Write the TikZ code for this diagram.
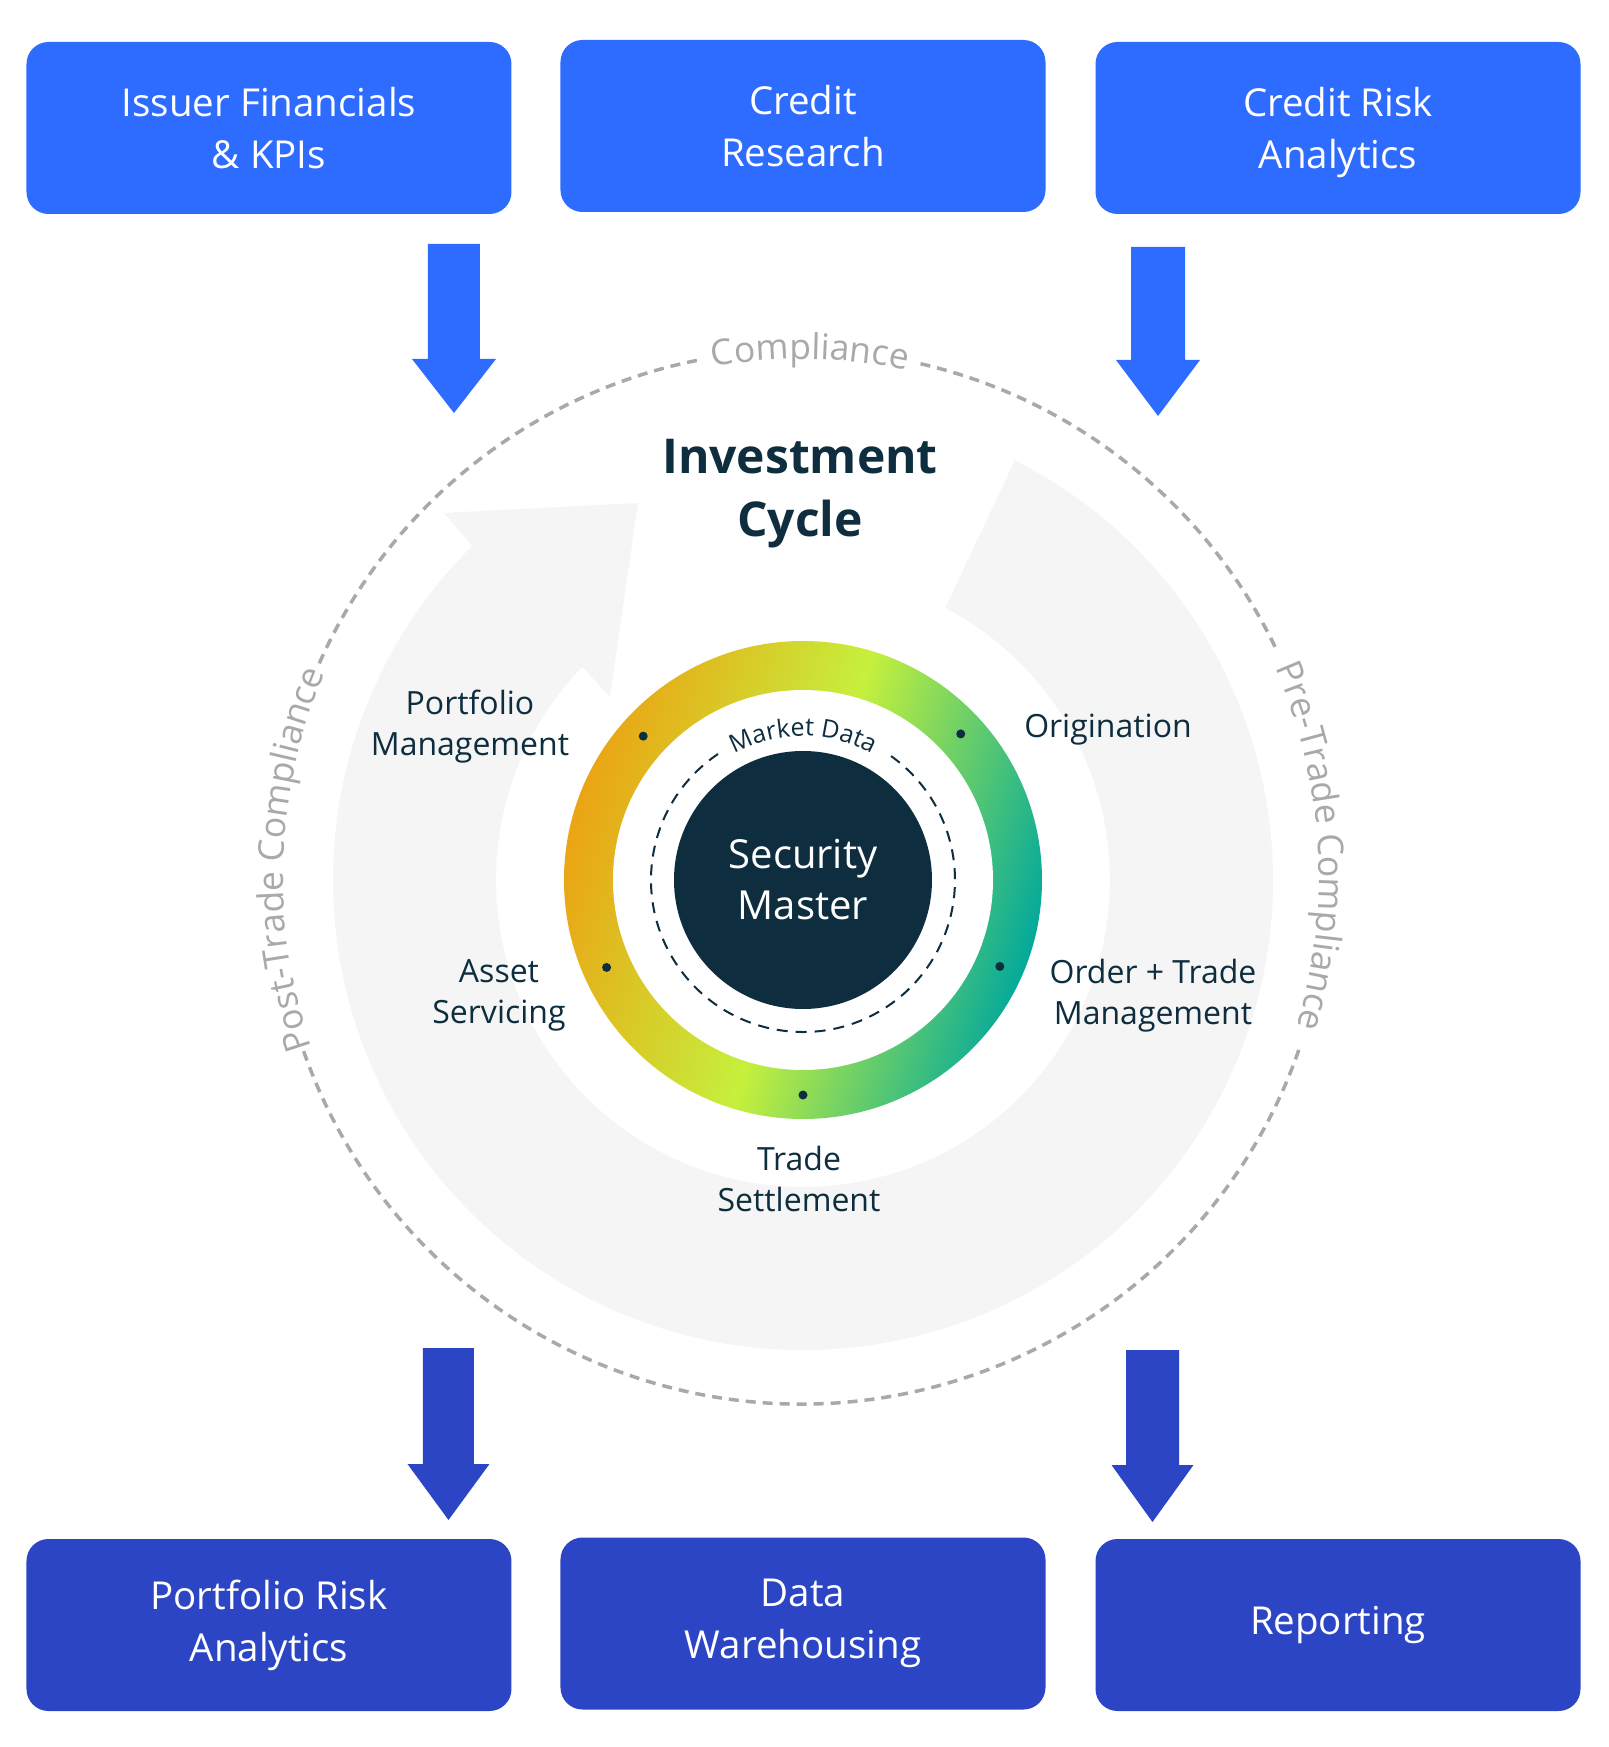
\documentclass[tikz,border=0pt]{standalone}
\usepackage{fontspec}
\setmainfont{Open Sans}
\usetikzlibrary{decorations.text}
\definecolor{topblue}{HTML}{2E6BFF}
\definecolor{botblue}{HTML}{2C45C4}
\definecolor{navy}{HTML}{0E2D3E}
\definecolor{ringbg}{HTML}{F4F5F4}
\definecolor{compgray}{HTML}{A9A9A9}
\definecolor{rorange}{HTML}{EBA414}
\definecolor{rlime}{HTML}{C6F03C}
\definecolor{rteal}{HTML}{04A99B}
\newcommand\compfont{\fontsize{35.5}{35.5}\selectfont}
\newcommand\mdfont{\fontsize{25}{25}\selectfont}
\begin{document}
\begin{tikzpicture}[x=1pt,y=1pt,
  box/.style={rounded corners=22pt, minimum width=485pt, minimum height=172pt, text=white, align=center, font=\fontsize{38.5}{52}\selectfont, inner sep=0pt},
  topbox/.style={box, fill=topblue},
  botbox/.style={box, fill=botblue},
  lbl/.style={text=navy, align=center, font=\fontsize{32}{41}\selectfont, inner sep=0pt},
  compdash/.style={draw=compgray, line width=3.5pt, dash pattern=on 10pt off 7pt},
  comptext/.style={decorate, decoration={text along path, text align=center, text color=compgray, text={|\compfont|#1}}},
  dot/.style={fill=navy}
]
\useasboundingbox (-803,-867) rectangle (805,880);
\fill[white] (-803,-867) rectangle (805,880);

% light gray circular arrow
\fill[ringbg] (63.2:470) arc[start angle=63.2, end angle=-225.3, radius=470]
  -- (-359,367) -- (-165,377) -- (-193,183) -- (-224:307)
  arc[start angle=-224, end angle=62.4, radius=307] -- cycle;

% compliance dashed circle
\coordinate (cc) at (-2,3);
\draw[compdash] (cc) ++(101.4:527) arc[start angle=101.4, end angle=156.7, radius=527];
\draw[compdash] (cc) ++(199.3:527) arc[start angle=199.3, end angle=341.4, radius=527];
\draw[compdash] (cc) ++(25.9:527) arc[start angle=25.9, end angle=77, radius=527];
\path[comptext=Compliance] (cc) ++(119:518) arc[start angle=119, end angle=59, radius=518];
\path[comptext=Pre-Trade Compliance] (cc) ++(33.5:518) arc[start angle=33.5, end angle=-26.5, radius=518];
\path[comptext=Post-Trade Compliance] (cc) ++(208:518) arc[start angle=208, end angle=148, radius=518];

% top boxes
\node[topbox] (b1) at (-534,752) {Issuer Financials\\\& KPIs};
\node[topbox] (b2) at (0,754) {Credit\\Research};
\node[topbox] (b3) at (535,752) {Credit Risk\\\smash{Analytics}};
% bottom boxes
\node[botbox] (b4) at (-534,-745) {Portfolio Risk\\Analytics};
\node[botbox] (b5) at (0,-743.5) {Data\\Warehousing};
\node[botbox] (b6) at (535,-745) {Reporting};

% block arrows
\coordinate (ta1) at (-349,636);
\coordinate (ta2) at (355,633);
\coordinate (ba1) at (-354.5,-468);
\coordinate (ba2) at (349.5,-470);
\fill[topblue] (ta1) +(-26,0) -- +(26,0) -- +(26,-115) -- +(42,-115) -- +(0,-169) -- +(-42,-115) -- +(-26,-115) -- cycle;
\fill[topblue] (ta2) +(-27,0) -- +(27,0) -- +(27,-113) -- +(42,-113) -- +(0,-169) -- +(-42,-113) -- +(-27,-113) -- cycle;
\fill[botblue] (ba1) +(-25.5,0) -- +(25.5,0) -- +(25.5,-116) -- +(41,-116) -- +(0,-172) -- +(-41,-116) -- +(-25.5,-116) -- cycle;
\fill[botblue] (ba2) +(-26.5,0) -- +(26.5,0) -- +(26.5,-115) -- +(41,-115) -- +(0,-172) -- +(-41,-115) -- +(-26.5,-115) -- cycle;

% title
\node[text=navy, font=\bfseries\fontsize{48}{63}\selectfont, align=center, inner sep=0pt] (title) at (-3,386.5) {Investment\\Cycle};

% gradient ring
\shade[top color=rorange, bottom color=rteal, middle color=rlime, shading angle=73] (0,0) circle (239);
\fill[white] (0,0) circle (190);
\draw[navy, line width=2pt, dash pattern=on 11pt off 8pt] (124:152) arc[start angle=124, end angle=415, radius=152];
\path[decorate, decoration={text along path, text align=center, text color=navy, text={|\mdfont|Market Data}}] (128:144) arc[start angle=128, end angle=52, radius=144];

\node[circle, fill=navy, minimum size=258pt, inner sep=0pt, text=white, align=center, font=\fontsize{40}{51}\selectfont] (sm) at (0,0) {Security\\Master};

% dots
\fill[dot] (138:215) circle (4.5);
\fill[dot] (42.8:215) circle (4.5);
\fill[dot] (204:215) circle (4.5);
\fill[dot] (-23.7:215) circle (4.5);
\fill[dot] (-90:215) circle (4.5);

% labels
\node[lbl] (pm) at (-333,153) {Portfolio\\Management};
\node[lbl] (or) at (305,150) {Origination};
\node[lbl] (as) at (-304,-115.5) {Asset\\Servicing};
\node[lbl] (ot) at (350,-115.5) {Order + Trade\\Management};
\node[lbl] (ts) at (-4,-298.5) {Trade\\Settlement};
\end{tikzpicture}
\end{document}
